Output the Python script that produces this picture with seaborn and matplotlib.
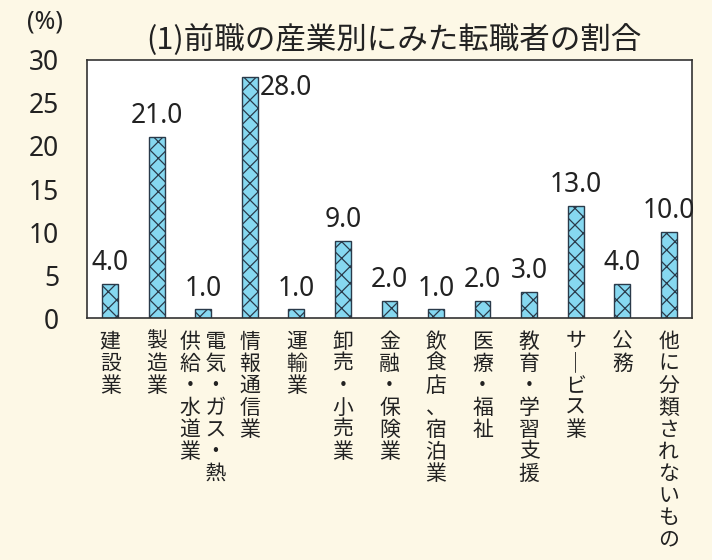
import numpy as np
import pandas as pd
import matplotlib.pyplot as plt
import seaborn as sns

# データ
sangyo = ['建設業', '製造業', '電気・ガス・熱供給・水道業', '情報通信業', '運輸業',
          '卸売・小売業', '金融・保険業', '飲食店、宿泊業', '医療・福祉',
          '教育・学習支援', 'サービス業', '公務', '他に分類されないもの']
wariai = [4.0, 21.0, 1.0, 28.0, 1.0, 9.0, 2.0, 1.0, 2.0, 3.0, 13.0, 4.0, 10.0]
y_ticks = [0, 5, 10, 15, 20, 25, 30]

df = pd.DataFrame({'sangyo': sangyo, 'wariai': wariai})

sns.set_theme(style='white')
plt.rcParams['font.family'] = ['Noto Sans CJK JP', 'DejaVu Sans']
plt.rcParams['hatch.color'] = '#1f5a96'
plt.rcParams['hatch.linewidth'] = 0.9

bg = '#fdf8e6'
num_font = ['Noto Sans', 'DejaVu Sans']
fig = plt.figure(figsize=(7.12, 5.6), dpi=100, facecolor=bg)
ax = fig.add_axes([0.122, 0.432, 0.850, 0.461])

sns.barplot(data=df, x='sangyo', y='wariai', color='#86d8f0', width=0.34,
            edgecolor='#2a3a4a', linewidth=1.0, saturation=1, ax=ax)
for p in ax.patches:
    p.set_hatch('xx')

for i, v in enumerate(wariai):
    if v >= 28:
        # 上端に収まらないので棒の右側に
        ax.text(i + 0.22, v - 1.3, f'{v:.1f}', ha='left', va='center',
                fontsize=19, color='#222222', family=num_font)
    else:
        ax.text(i, v + 0.8, f'{v:.1f}', ha='center', va='bottom',
                fontsize=19, color='#222222', family=num_font)

ax.set_ylim(0, 30)
ax.set_xlim(-0.5, len(sangyo) - 0.5)
ax.set_yticks(y_ticks)
ax.set_yticklabels([str(t) for t in y_ticks], family=num_font)
ax.tick_params(axis='y', labelsize=19, length=0, pad=20, colors='#222222')


def tate(s):
    # 縦書き風に1文字ずつ改行
    return '\n'.join(s.replace('ー', '｜'))


labels = [tate(s) for s in sangyo]
# 電気・ガス・熱／供給・水道業 は2列
right = '電気・ガス・熱'
left = '供給・水道業'
rows = []
for k in range(len(right)):
    l = left[k] if k < len(left) else '　'
    rows.append(l + ' ' + right[k])
labels[2] = '\n'.join(rows)

ax.set_xticks(range(len(sangyo)))
ax.set_xticklabels(labels, fontsize=15, linespacing=1.0, va='top',
                   color='#222222')
ax.tick_params(axis='x', length=0, pad=9)
ax.set_xlabel('')
ax.set_ylabel('')

for s in ax.spines.values():
    s.set_color('#333333')
    s.set_linewidth(1.2)

ax.set_facecolor('white')
fig.text(0.553, 0.928, '(1)前職の産業別にみた転職者の割合', ha='center', va='center',
         fontsize=22, color='#222222')
fig.text(0.063, 0.960, '(%)', ha='center', va='center', fontsize=18,
         color='#222222', family=num_font)

fig.savefig('out.png', dpi=100, facecolor=bg)
